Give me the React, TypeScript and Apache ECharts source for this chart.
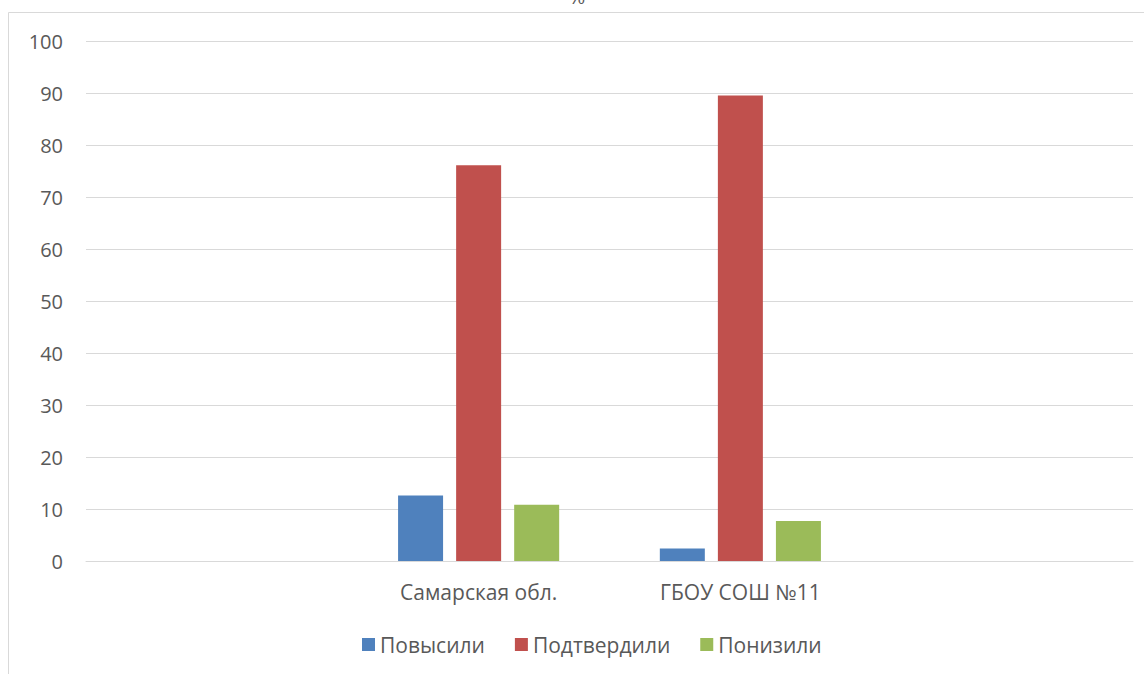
import React, { useEffect, useRef } from "react";
import * as echarts from "echarts";

const categories = ["", "Самарская обл.", "ГБОУ СОШ №11", ""];
const seriesNames = ["Повысили", "Подтвердили", "Понизили"];
const raised = [null, 12.6, 2.4, null];
const confirmed = [null, 76.1, 89.5, null];
const lowered = [null, 10.8, 7.7, null];
const colors = ["#4F81BD", "#C0504D", "#9BBB59"];
const titleText = "%";

const FONT = "'Open Sans', 'Noto Sans', sans-serif";
const TEXT_COLOR = "#595959";

export default function App() {
  const ref = useRef<HTMLDivElement>(null);
  useEffect(() => {
    if (!ref.current) return;
    const chart = echarts.init(ref.current, undefined, { renderer: "svg" });
    const values = [raised, confirmed, lowered];
    chart.setOption({
      animation: false,
      color: colors,
      textStyle: { fontFamily: FONT, color: TEXT_COLOR },
      graphic: [
        {
          type: "rect",
          shape: { x: 8.5, y: 12.5, width: 1200, height: 800 },
          style: { fill: "none", stroke: "#D9D9D9", lineWidth: 1 },
          silent: true,
        },
        {
          type: "text",
          x: 577,
          y: 6,
          style: {
            text: titleText,
            fontFamily: FONT,
            fontSize: 20,
            fill: TEXT_COLOR,
            textAlign: "center",
            textVerticalAlign: "bottom",
          },
        },
      ],
      grid: { left: 86, right: 11, top: 41, bottom: 113, containLabel: false },
      legend: {
        bottom: 14,
        left: 357,
        itemWidth: 13,
        itemHeight: 13,
        itemGap: 30,
        icon: "rect",
        textStyle: { fontFamily: FONT, fontSize: 21, color: TEXT_COLOR },
        data: seriesNames,
      },
      xAxis: {
        type: "category",
        data: categories,
        axisLine: { show: true, lineStyle: { color: "#D9D9D9", width: 1 } },
        axisTick: { show: false },
        axisLabel: { fontFamily: FONT, fontSize: 21, color: TEXT_COLOR, margin: 20, interval: 0 },
      },
      yAxis: {
        type: "value",
        min: 0,
        max: 100,
        interval: 10,
        axisLine: { show: false },
        axisTick: { show: false },
        splitLine: { lineStyle: { color: "#D9D9D9", width: 1 } },
        axisLabel: { fontFamily: FONT, fontSize: 20, color: TEXT_COLOR, margin: 23 },
      },
      series: seriesNames.map((name, i) => ({
        name,
        type: "bar",
        data: values[i],
        barWidth: 45,
        barGap: "29%",
        itemStyle: { color: colors[i] },
      })),
    });
    return () => chart.dispose();
  }, []);
  return (
    <div
      ref={ref}
      style={{ position: "absolute", left: 0, top: 0, width: 1144, height: 674, background: "#fff" }}
    />
  );
}
